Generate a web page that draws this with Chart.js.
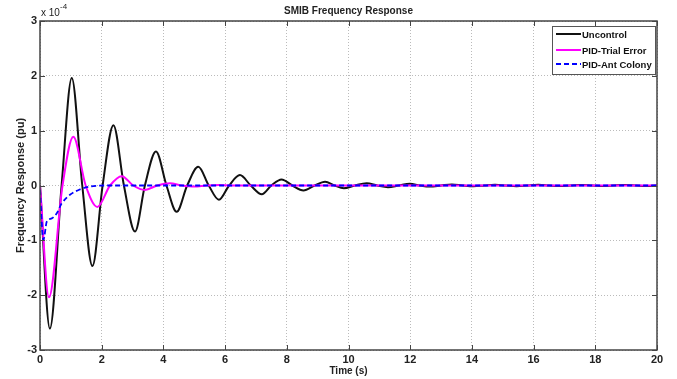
<!DOCTYPE html>
<html>
  <head>
    <title>SMIB Frequency Response</title>
    <script src="https://cdn.jsdelivr.net/npm/chart.js@4.4.1/dist/chart.umd.min.js"></script>
    <style>
      body { margin: 0; background: #fff; }
    </style>
  </head>
  <body>
    <canvas id="myChart" width="677" height="379"></canvas>
    <script>
      // values, y in units of 1e-4 pu
      var uncontrolTime = [0, 0.32, 0.70, 1.03, 1.37, 1.70, 2.03, 2.38, 2.72, 3.08, 3.40, 3.76, 4.10, 4.43, 4.77,
        5.13, 5.47, 5.80, 6.13, 6.48, 6.83, 7.19, 7.50, 7.83, 8.18, 8.54, 8.90, 9.24, 9.55, 9.85, 10.2, 10.59,
        10.93, 11.28, 11.63, 11.99, 12.3, 12.64, 13.0, 13.35, 13.7, 14.05, 14.4, 14.75, 15.1, 15.45, 15.8,
        16.15, 16.5, 16.85, 17.2, 17.55, 17.9, 18.25, 18.6, 18.95, 19.3, 19.65, 20];
      var uncontrol = [0, -2.61, 0, 1.96, 0, -1.47, 0, 1.10, 0, -0.84, 0, 0.62, 0, -0.48, 0,
        0.34, 0, -0.26, 0, 0.19, 0, -0.16, 0, 0.11, 0, -0.09, 0, 0.07, 0, -0.05, 0, 0.04,
        0, -0.03, 0, 0.03, 0, -0.02, 0, 0.02, 0, -0.015, 0, 0.015, 0, -0.012, 0,
        0.012, 0, -0.01, 0, 0.01, 0, -0.01, 0, 0.008, 0, -0.008, 0];

      var trialTime = [0, 0.29, 0.73, 1.08, 1.48, 1.86, 2.27, 2.65, 3.02, 3.40, 3.80, 4.21, 4.60, 5.00, 5.40, 5.80, 6.20, 20];
      var trialError = [0, -2.04, 0, 0.89, 0, -0.39, 0, 0.17, 0, -0.08, 0, 0.04, 0, -0.02, 0, 0.01, 0, 0];

      var antTime = [0, 0.11, 0.22, 0.38, 0.54, 0.70, 0.97, 1.30, 1.60, 2.20, 20];
      var antColony = [-0.08, -0.99, -0.66, -0.60, -0.51, -0.33, -0.17, -0.07, -0.02, 0, 0];

      var xTicks = [0, 2, 4, 6, 8, 10, 12, 14, 16, 18, 20];
      var yTicks = [-3, -2, -1, 0, 1, 2, 3];

      function pts(t, v) {
        return t.map(function (x, i) { return { x: x, y: v[i] }; });
      }

      var axisColor = "#444";
      var tickFont = { family: "Liberation Sans", size: 11, weight: "bold" };

      // box, inward ticks, title, exponent label and legend, MATLAB style
      var matlabFrame = {
        id: "matlabFrame",
        afterDatasetsDraw: function (chart) {
          var c = chart.ctx, a = chart.chartArea;
          var xs = chart.scales.x, ys = chart.scales.y;
          c.save();
          c.strokeStyle = axisColor;
          c.lineWidth = 1.5;
          c.strokeRect(a.left, a.top, a.right - a.left, a.bottom - a.top);
          c.lineWidth = 1;
          c.beginPath();
          xTicks.forEach(function (t) {
            var px = Math.round(xs.getPixelForValue(t)) + 0.5;
            c.moveTo(px, a.bottom); c.lineTo(px, a.bottom - 5);
            c.moveTo(px, a.top); c.lineTo(px, a.top + 5);
          });
          yTicks.forEach(function (t) {
            var py = Math.round(ys.getPixelForValue(t)) + 0.5;
            c.moveTo(a.left, py); c.lineTo(a.left + 5, py);
            c.moveTo(a.right, py); c.lineTo(a.right - 5, py);
          });
          c.stroke();

          // title
          c.fillStyle = "#222";
          c.textBaseline = "middle";
          c.textAlign = "center";
          c.font = "bold 10px 'Liberation Sans'";
          c.fillText("SMIB Frequency Response", (a.left + a.right) / 2, 11);

          // x 10^-4
          c.textAlign = "left";
          c.font = "10px 'Liberation Sans'";
          c.fillText("x 10", a.left + 1, a.top - 8);
          c.font = "8px 'Liberation Sans'";
          c.fillText("-4", a.left + 20, a.top - 14);

          // legend
          var bx = 552, by = 26, bw = 103, bh = 48;
          c.fillStyle = "#fff";
          c.fillRect(bx, by, bw, bh);
          c.strokeStyle = "#555";
          c.lineWidth = 1;
          c.strokeRect(bx + 0.5, by + 0.5, bw, bh);
          var rows = [34, 50, 64];
          chart.data.datasets.forEach(function (ds, i) {
            c.strokeStyle = ds.borderColor;
            c.lineWidth = ds.borderWidth;
            c.setLineDash(ds.borderDash || []);
            c.beginPath();
            c.moveTo(556, rows[i]);
            c.lineTo(581, rows[i]);
            c.stroke();
            c.setLineDash([]);
            c.fillStyle = "#111";
            c.font = "bold 9.5px 'Liberation Sans'";
            c.textAlign = "left";
            c.fillText(ds.label, 582, rows[i] + 1);
          });
          c.restore();
        },
      };

      var ctx = document.getElementById("myChart").getContext("2d");
      var chart = new Chart(ctx, {
        type: "line",
        data: {
          datasets: [
            {
              label: "Uncontrol",
              data: pts(uncontrolTime, uncontrol),
              borderColor: "#111",
              borderWidth: 2,
              order: 2,
            },
            {
              label: "PID-Trial Error",
              data: pts(trialTime, trialError),
              borderColor: "#ff00ff",
              borderWidth: 2,
              order: 1,
            },
            {
              label: "PID-Ant Colony",
              data: pts(antTime, antColony),
              borderColor: "#0000ff",
              borderWidth: 1.8,
              borderDash: [5, 3],
              order: 0,
            },
          ],
        },
        options: {
          responsive: false,
          animation: false,
          layout: { padding: { left: 0, right: 20, top: 21, bottom: 0 } },
          elements: {
            point: { radius: 0 },
            line: { cubicInterpolationMode: "monotone", fill: false },
          },
          plugins: {
            legend: { display: false },
            tooltip: { enabled: false },
            title: { display: false },
          },
          scales: {
            x: {
              type: "linear",
              min: 0,
              max: 20,
              afterBuildTicks: function (s) { s.ticks = xTicks.map(function (v) { return { value: v }; }); },
              afterFit: function (s) { s.height = 29; },
              grid: { color: "#bbb", drawTicks: false },
              border: { display: false, dash: [1, 2] },
              ticks: { color: "#222", font: tickFont, padding: 3, maxRotation: 0 },
              title: {
                display: true,
                text: "Time (s)",
                color: "#222",
                font: { family: "Liberation Sans", size: 10, weight: "bold" },
                padding: { top: 0, bottom: 2 },
              },
            },
            y: {
              min: -3,
              max: 3,
              afterBuildTicks: function (s) { s.ticks = yTicks.map(function (v) { return { value: v }; }); },
              afterFit: function (s) { s.width = 40; },
              grid: { color: "#bbb", drawTicks: false },
              border: { display: false, dash: [1, 2] },
              ticks: { color: "#222", font: tickFont, padding: 3 },
              title: {
                display: true,
                text: "Frequency Response (pu)",
                color: "#222",
                font: { family: "Liberation Sans", size: 11, weight: "bold" },
                padding: { top: 14, bottom: 0 },
              },
            },
          },
        },
        plugins: [matlabFrame],
      });
    </script>
  </body>
</html>
